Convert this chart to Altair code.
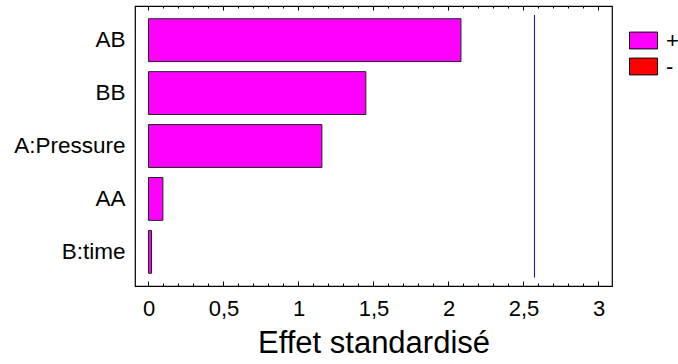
import altair as alt
import pandas as pd

terms = ["AB", "BB", "A:Pressure", "AA", "B:time"]
effects = [2.083, 1.449, 1.156, 0.096, 0.02]
signs = ["+", "+", "+", "+", "+"]
sign_levels = ["+", "-"]
sign_colors = ["#ff00ff", "#ff0000"]
critical_value = [2.573]
major_ticks = [0, 0.5, 1, 1.5, 2, 2.5, 3]
minor_ticks = [0.1, 0.2, 0.3, 0.4, 0.6, 0.7, 0.8, 0.9, 1.1, 1.2, 1.3, 1.4,
               1.6, 1.7, 1.8, 1.9, 2.1, 2.2, 2.3, 2.4, 2.6, 2.7, 2.8, 2.9]
x_domain = [-0.09, 3.09]
x_title = "Effet standardisé"

FONT = "Liberation Sans"
W, H = 477, 280

bars_df = pd.DataFrame({"term": terms, "effect": effects, "sign": signs})
crit_df = pd.DataFrame({"v": critical_value})
major_df = pd.DataFrame({"v": major_ticks})
minor_df = pd.DataFrame({"v": minor_ticks})

xscale = alt.Scale(domain=x_domain, nice=False, zero=False)

bars = alt.Chart(bars_df).mark_bar(stroke="#222222", strokeWidth=1).encode(
    x=alt.X("effect:Q", scale=xscale,
            axis=alt.Axis(values=major_ticks, title=x_title, ticks=False, domain=False,
                          grid=False,
                          labelExpr="replace(format(datum.value, '~g'), '.', ',')",
                          labelFont=FONT, labelFontSize=22, labelColor="black",
                          labelPadding=12, titleFont=FONT, titleFontSize=31,
                          titleFontWeight="normal", titleColor="black", titlePadding=9)),
    x2=alt.datum(0),
    y=alt.Y("term:N", sort=terms,
            scale=alt.Scale(paddingInner=0.19, paddingOuter=0.24),
            axis=alt.Axis(title=None, ticks=False, domain=False, labelFont=FONT,
                          labelFontSize=22.5, labelColor="black", labelPadding=10)),
    color=alt.Color("sign:N",
                    scale=alt.Scale(domain=sign_levels, range=sign_colors),
                    legend=alt.Legend(title=None, orient="none", legendX=494, legendY=20,
                                      symbolType="M-1,-0.6H1V0.6H-1Z", symbolSize=784,
                                      symbolStrokeColor="black", symbolStrokeWidth=1,
                                      symbolOpacity=1, labelFont=FONT, labelFontSize=22,
                                      labelColor="black", labelOffset=8, rowPadding=-1,
                                      padding=0)),
)

crit = alt.Chart(crit_df).mark_rule(color="#0000ff", strokeWidth=1).encode(
    x=alt.X("v:Q", scale=xscale),
    y=alt.value(9), y2=alt.value(271.5),
)

def tick_layer(df, y0, y1, w=1):
    return alt.Chart(df).mark_rule(color="black", strokeWidth=w).encode(
        x=alt.X("v:Q", scale=xscale), y=alt.value(y0), y2=alt.value(y1))

layers = [
    bars, crit,
    tick_layer(major_df, H, H - 4.5),
    tick_layer(minor_df, H, H - 2.5),
    tick_layer(major_df, 0, 4.5),
    tick_layer(minor_df, 0, 2.5),
]

chart = alt.layer(*layers).properties(
    width=W, height=H,
    autosize=alt.AutoSizeParams(type="none"),
    padding={"left": 135, "top": 6, "right": 66, "bottom": 78},
    background="white",
).configure_view(stroke="black", strokeWidth=1.2).configure_axis(grid=False)

chart.save("out.html", embed_options={"renderer": "svg", "actions": False})
